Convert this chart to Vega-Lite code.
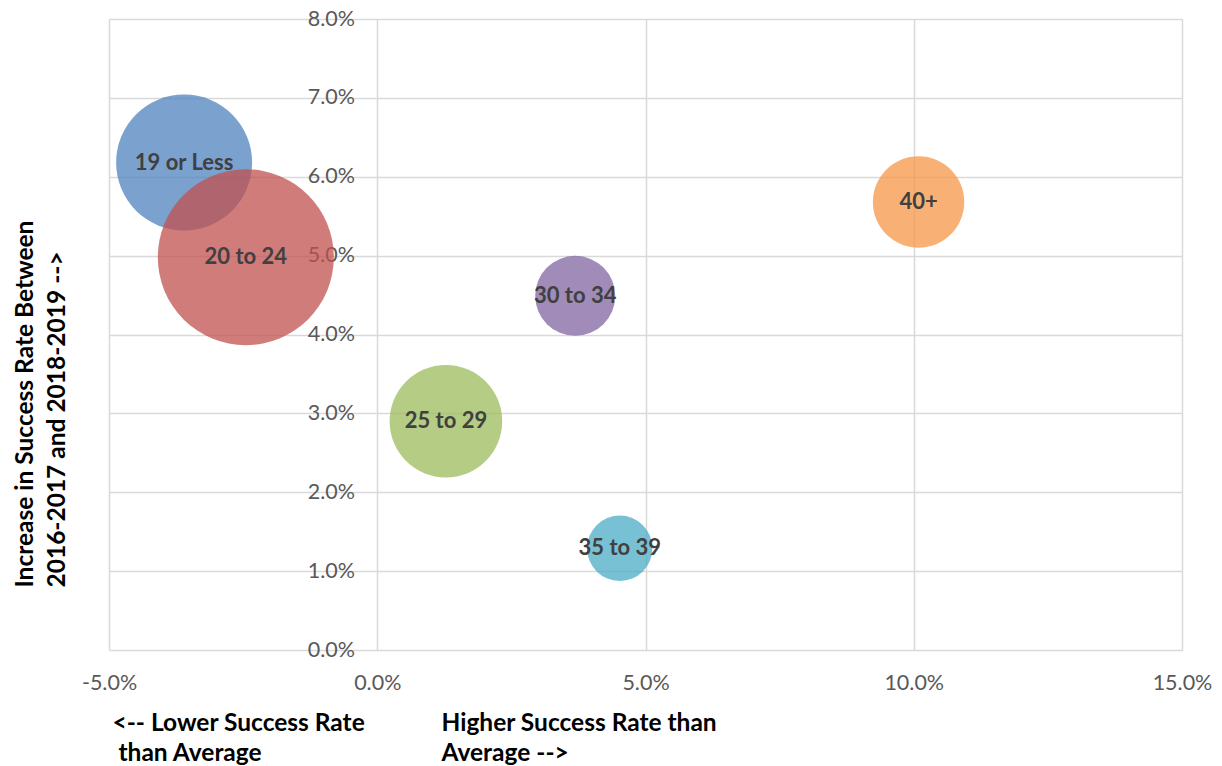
{
  "$schema": "https://vega.github.io/schema/vega-lite/v6.json",
  "width": 1073,
  "height": 631,
  "autosize": "none",
  "padding": {"left": 109, "top": 19, "right": 40, "bottom": 116},
  "background": "white",
  "config": {"view": {"stroke": null}, "font": "Lato"},
  "data": {
    "values": [
      {"age": "19 or Less", "diff": -0.0360, "increase": 0.0618, "n": 5971},
      {"age": "20 to 24", "diff": -0.0245, "increase": 0.0498, "n": 10000},
      {"age": "25 to 29", "diff": 0.0128, "increase": 0.0290, "n": 4093},
      {"age": "30 to 34", "diff": 0.0369, "increase": 0.0449, "n": 2066},
      {"age": "35 to 39", "diff": 0.0452, "increase": 0.0129, "n": 1381},
      {"age": "40+", "diff": 0.1009, "increase": 0.0568, "n": 2697}
    ]
  },
  "layer": [
    {
      "mark": {"type": "circle", "opacity": 0.75, "strokeWidth": 0},
      "encoding": {
        "x": {
          "field": "diff",
          "type": "quantitative",
          "scale": {"domain": [-0.05, 0.15], "nice": false, "zero": false},
          "axis": {
            "values": [-0.05, 0, 0.05, 0.1, 0.15],
            "format": ".1%",
            "labelExpr": "replace(datum.label, '−', '-')",
            "grid": true,
            "gridColor": "#d9d9d9",
            "gridWidth": 1.5,
            "domain": false,
            "ticks": false,
            "tickSize": 0,
            "labelFont": "Lato",
            "labelFontSize": 21.5,
            "labelColor": "#595959",
            "labelBaseline": "middle",
            "labelPadding": 33,
            "labelFlush": false,
            "title": ["<-- Lower Success Rate", "\u200b\u00a0than Average"],
            "titleFont": "Lato",
            "titleFontSize": 24.5,
            "titleFontWeight": "bold",
            "titleColor": "#000000",
            "titleAnchor": "start",
            "titleAlign": "left",
            "titleBaseline": "alphabetic",
            "titleX": 3,
            "titleY": 80,
            "titleLineHeight": 30
          }
        },
        "y": {
          "field": "increase",
          "type": "quantitative",
          "scale": {"domain": [0, 0.08], "nice": false},
          "axis": {
            "values": [0, 0.01, 0.02, 0.03, 0.04, 0.05, 0.06, 0.07, 0.08],
            "format": ".1%",
            "grid": true,
            "gridColor": "#d9d9d9",
            "gridWidth": 1.5,
            "domain": false,
            "ticks": false,
            "tickSize": 0,
            "offset": -268.5,
            "labelFont": "Lato",
            "labelFontSize": 21.5,
            "labelColor": "#595959",
            "labelPadding": 23,
            "title": ["Increase in Success Rate Between", "2016-2017 and 2018-2019 -->"],
            "titleFont": "Lato",
            "titleFontSize": 24.5,
            "titleFontWeight": "bold",
            "titleColor": "#000000",
            "titleAngle": -90,
            "titleAlign": "left",
            "titleBaseline": "middle",
            "titleX": -352.5,
            "titleY": 568,
            "titleLineHeight": 32
          }
        },
        "color": {
          "field": "age",
          "type": "nominal",
          "scale": {
            "domain": ["19 or Less", "20 to 24", "25 to 29", "30 to 34", "35 to 39", "40+"],
            "range": ["#4F81BD", "#C0504D", "#9BBB59", "#8064A2", "#4BACC6", "#F79646"]
          },
          "legend": null
        },
        "size": {
          "field": "n",
          "type": "quantitative",
          "scale": {"domain": [0, 10000], "range": [0, 30976]},
          "legend": null
        }
      }
    },
    {
      "mark": {"type": "text", "font": "Lato", "fontSize": 22, "fontWeight": "bold", "color": "#404040"},
      "encoding": {
        "x": {
          "field": "diff",
          "type": "quantitative",
          "axis": {
            "orient": "bottom",
            "labels": false,
            "grid": false,
            "domain": false,
            "ticks": false,
            "title": ["Higher Success Rate than", "Average -->"],
            "titleFont": "Lato",
            "titleFontSize": 24.5,
            "titleFontWeight": "bold",
            "titleColor": "#000000",
            "titleAnchor": "start",
            "titleAlign": "left",
            "titleBaseline": "alphabetic",
            "titleX": 332,
            "titleY": 80,
            "titleLineHeight": 30
          }
        },
        "y": {"field": "increase", "type": "quantitative"},
        "text": {"field": "age"}
      }
    }
  ],
  "resolve": {"axis": {"x": "independent"}}
}
